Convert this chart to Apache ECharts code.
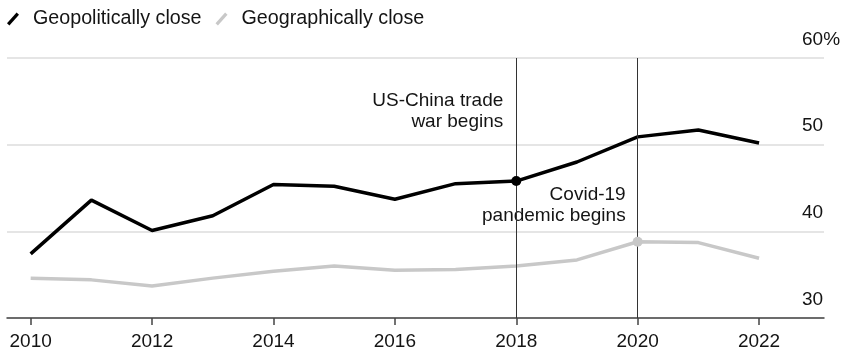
<!DOCTYPE html>
<html>
<head>
<meta charset="utf-8">
<script src="https://cdn.jsdelivr.net/npm/echarts@6/dist/echarts.min.js"></script>
<style>
  html, body { margin: 0; padding: 0; background: #fff; }
  #chart { width: 845px; height: 356px; }
</style>
</head>
<body>
<div id="chart"></div>
<script>
// Share of trade, by partner type (%)
const years = [2010, 2011, 2012, 2013, 2014, 2015, 2016, 2017, 2018, 2019, 2020, 2021, 2022];
const geopoliticallyClose = [37.4, 43.6, 40.1, 41.8, 45.4, 45.2, 43.7, 45.5, 45.8, 48.0, 50.9, 51.7, 50.2];
const geographicallyClose = [34.6, 34.4, 33.7, 34.6, 35.4, 36.0, 35.5, 35.6, 36.0, 36.7, 38.8, 38.7, 36.9];
const xTickLabels = [2010, 2012, 2014, 2016, 2018, 2020, 2022];
const yTicks = [30, 40, 50, 60];
const events = [
  { year: 2018, text: 'US-China trade\nwar begins' },
  { year: 2020, text: 'Covid-19\npandemic begins' }
];

const FONT = '"Liberation Sans", Arial, sans-serif';
const TEXT = '#141414';
const slash = 'path://M0,9 L8,0 L10,2 L2,11 Z';

const pairs = vals => years.map((y, i) => [y, vals[i]]);

const chart = echarts.init(document.getElementById('chart'), null, { renderer: 'canvas' });

chart.setOption({
  animation: false,
  backgroundColor: '#fff',
  textStyle: { fontFamily: FONT },
  legend: {
    left: 2,
    top: 4,
    itemWidth: 12,
    itemHeight: 14,
    itemGap: 14,
    icon: slash,
    textStyle: { fontFamily: FONT, fontSize: 19.7, color: TEXT, padding: [0, 0, 0, 9] },
    data: [
      { name: 'Geopolitically close', itemStyle: { color: '#000' } },
      { name: 'Geographically close', itemStyle: { color: '#c8c8c8' } }
    ]
  },
  grid: { left: 7, right: 21, top: 58, bottom: 38, containLabel: false },
  xAxis: {
    type: 'value',
    min: 2009.61,
    max: 2023.07,
    splitLine: { show: false },
    axisLine: { show: true, lineStyle: { color: '#444', width: 1.5 } },
    axisTick: { show: true, length: 7, customValues: xTickLabels, lineStyle: { color: '#444', width: 1.5 } },
    axisLabel: {
      customValues: xTickLabels,
      formatter: v => String(v),
      fontFamily: FONT,
      fontSize: 19,
      color: TEXT,
      margin: 14,
      lineHeight: 20,
      verticalAlign: 'top'
    }
  },
  yAxis: {
    type: 'value',
    position: 'right',
    min: 30,
    max: 60,
    interval: 10,
    axisLine: { show: false },
    axisTick: { show: false },
    splitLine: { show: true, lineStyle: { color: '#dcdcdc', width: 1.5 } },
    axisLabel: {
      inside: true,
      margin: 22,
      align: 'left',
      verticalAlign: 'bottom',
      lineHeight: 19,
      padding: [0, 0, 9, 0],
      fontFamily: FONT,
      fontSize: 19,
      color: TEXT,
      formatter: v => (v === yTicks[yTicks.length - 1] ? v + '%' : String(v))
    }
  },
  series: [
    {
      name: 'Geographically close',
      type: 'line',
      data: pairs(geographicallyClose),
      symbol: 'none',
      color: '#c8c8c8',
      lineStyle: { color: '#c8c8c8', width: 3.5 },
      z: 2,
      markPoint: {
        symbol: 'circle',
        symbolSize: 10,
        itemStyle: { color: '#c8c8c8' },
        label: { show: false },
        data: [{ coord: [2020, geographicallyClose[years.indexOf(2020)]] }]
      }
    },
    {
      name: 'Geopolitically close',
      type: 'line',
      data: pairs(geopoliticallyClose),
      symbol: 'none',
      color: '#000',
      lineStyle: { color: '#000', width: 3.5 },
      z: 4,
      markLine: {
        silent: true,
        symbol: ['none', 'none'],
        label: { show: false },
        lineStyle: { color: '#333', width: 1, type: 'solid' },
        data: events.map(e => ({ xAxis: e.year }))
      },
      markPoint: {
        symbol: 'circle',
        symbolSize: 10,
        itemStyle: { color: '#000' },
        label: { show: false },
        data: [{ coord: [2018, geopoliticallyClose[years.indexOf(2018)]] }]
      }
    }
  ]
});

// Event annotations, anchored beside their vertical rules
const px = (x, y) => chart.convertToPixel({ gridIndex: 0 }, [x, y]);
const topY = px(2018, 60)[1];
const a1 = px(events[0].year, 60);
const a2 = px(events[1].year, 60);
chart.setOption({
  graphic: [
    {
      type: 'text',
      x: a1[0] - 13,
      y: topY + 32,
      style: {
        text: events[0].text,
        font: '19px ' + FONT,
        fill: TEXT,
        align: 'right',
        verticalAlign: 'top',
        lineHeight: 21
      }
    },
    {
      type: 'text',
      x: a2[0] - 12,
      y: topY + 126,
      style: {
        text: events[1].text,
        font: '19px ' + FONT,
        fill: TEXT,
        align: 'right',
        verticalAlign: 'top',
        lineHeight: 21
      }
    }
  ]
});
</script>
</body>
</html>
